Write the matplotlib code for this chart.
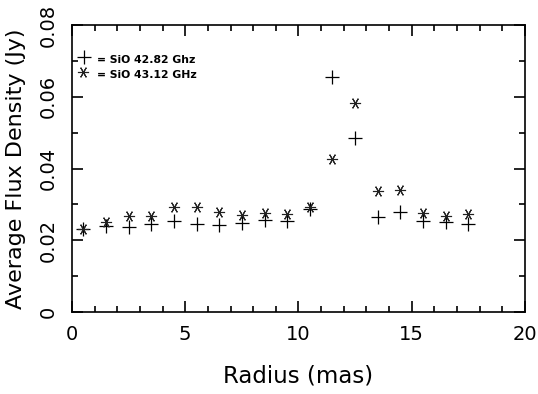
import numpy as np
import matplotlib
matplotlib.use("Agg")
import matplotlib.pyplot as plt
from matplotlib.ticker import MultipleLocator

radius = [0.5, 1.5, 2.5, 3.5, 4.5, 5.5, 6.5, 7.5, 8.5, 9.5,
          10.5, 11.5, 12.5, 13.5, 14.5, 15.5, 16.5, 17.5]
flux_4282 = [0.0231, 0.0240, 0.0238, 0.0245, 0.0254, 0.0245, 0.0243, 0.0248, 0.0256,
             0.0254, 0.0287, 0.0655, 0.0485, 0.0265, 0.0279, 0.0254, 0.0251, 0.0245]
flux_4312 = [0.0231, 0.0251, 0.0268, 0.0268, 0.0293, 0.0293, 0.0279, 0.0270, 0.0276,
             0.0273, 0.0293, 0.0426, 0.0583, 0.0337, 0.0340, 0.0276, 0.0268, 0.0273]

fig = plt.figure(figsize=(5.38, 3.94), dpi=100)
ax = fig.add_axes([0.1338, 0.2081, 0.842, 0.7284])

ax.plot(radius, flux_4282, linestyle='none', marker='+', markersize=10,
        markeredgewidth=0.9, color='black')
ax.plot(radius, flux_4312, linestyle='none', marker=(6, 2, 90), markersize=8,
        markeredgewidth=0.8, color='#222222')

ax.set_xlim(0, 20)
ax.set_ylim(0, 0.08)
ax.xaxis.set_major_locator(MultipleLocator(5))
ax.xaxis.set_minor_locator(MultipleLocator(1))
ax.yaxis.set_minor_locator(MultipleLocator(0.01))
ax.set_yticks([0, 0.02, 0.04, 0.06, 0.08])
ax.set_yticklabels(['0', '0.02', '0.04', '0.06', '0.08'], rotation=90, va='center')
ax.tick_params(which='both', direction='in', top=True, right=True,
               labelsize=14, width=1.2)
ax.tick_params(axis='x', which='major', length=8, pad=9)
ax.tick_params(axis='y', which='major', length=8, pad=10)
ax.tick_params(which='minor', length=4)
for s in ax.spines.values():
    s.set_linewidth(1.2)

ax.set_xlabel('Radius (mas)', fontsize=16.5, labelpad=15)
ax.set_ylabel('Average Flux Density (Jy)', fontsize=16)
ax.yaxis.set_label_coords(-0.101, 0.5)

# legend drawn by hand like the original
ax.plot([0.53], [0.0710], linestyle='none', marker='+', markersize=10,
        markeredgewidth=0.9, color='black')
ax.plot([0.5], [0.0668], linestyle='none', marker=(6, 2, 90), markersize=8,
        markeredgewidth=0.8, color='#222222')
ax.text(1.1, 0.0703, '= SiO 42.82 Ghz', fontsize=7.8, fontweight='bold', va='center')
ax.text(1.1, 0.0662, '= SiO 43.12 GHz', fontsize=7.8, fontweight='bold', va='center')

fig.savefig('out.png', dpi=100)
